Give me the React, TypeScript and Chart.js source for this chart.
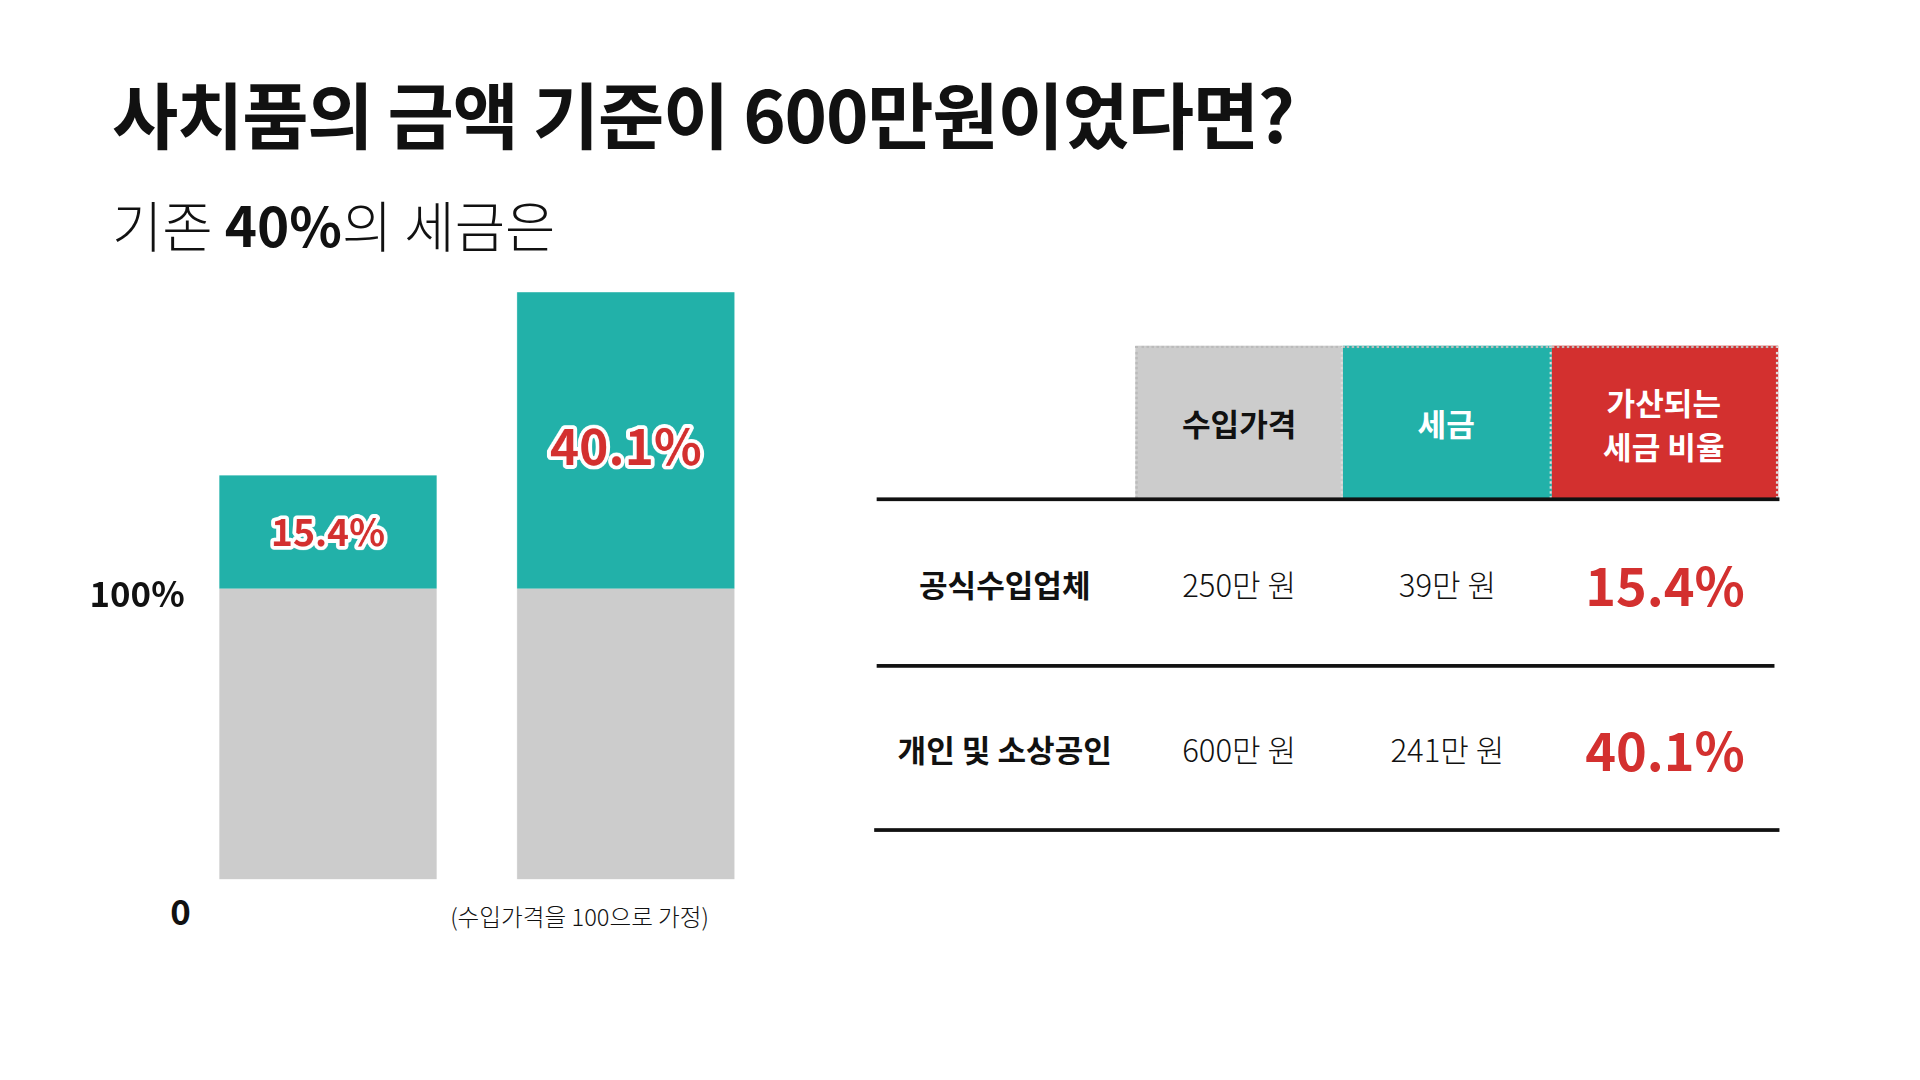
import { useEffect, useRef } from 'react';
import { Chart, registerables } from 'chart.js';

Chart.register(...registerables);

// bar chart data (heights as drawn in the picture; price = 100)
const barCategories = ['공식수입업체', '개인 및 소상공인'];
const priceShown = [100, 100];
const taxShown = [39, 102];
const taxLabels = ['15.4%', '40.1%'];
const taxLabelSizes = [30, 40];

// table data
const tableHeaders = ['수입가격', '세금', '가산되는\n세금 비율'];
const rowNames = ['공식수입업체', '개인 및 소상공인'];
const rowPrices = ['250만 원', '600만 원'];
const rowTaxes = ['39만 원', '241만 원'];
const rowRates = ['15.4%', '40.1%'];

const GRAY = '#cccccc';
const TEAL = '#22b1a9';
const RED = '#d3302f';
const FONT = '"Noto Sans CJK KR", "Noto Sans", sans-serif';

const labelPlugin = {
  id: 'taxLabels',
  afterDatasetsDraw(chart: Chart) {
    const { ctx } = chart;
    const meta = chart.getDatasetMeta(1);
    meta.data.forEach((bar: any, i: number) => {
      const size = taxLabelSizes[i];
      ctx.save();
      ctx.font = `bold ${size}px ${FONT}`;
      ctx.textAlign = 'center';
      ctx.textBaseline = 'middle';
      const y = i === 0 ? (bar.y + bar.base) / 2 : bar.y + 124;
      ctx.lineWidth = 6;
      ctx.strokeStyle = '#ffffff';
      ctx.lineJoin = 'round';
      ctx.strokeText(taxLabels[i], bar.x, y);
      ctx.fillStyle = RED;
      ctx.fillText(taxLabels[i], bar.x, y);
      ctx.restore();
    });
  },
};

function BarChart() {
  const canvasRef = useRef<HTMLCanvasElement>(null);
  const chartRef = useRef<Chart | null>(null);

  useEffect(() => {
    if (!canvasRef.current) return;
    if (chartRef.current) chartRef.current.destroy();
    chartRef.current = new Chart(canvasRef.current, {
      type: 'bar',
      data: {
        labels: barCategories,
        datasets: [
          { data: priceShown, backgroundColor: GRAY, barPercentage: 0.73, categoryPercentage: 1 },
          { data: taxShown, backgroundColor: TEAL, barPercentage: 0.73, categoryPercentage: 1 },
        ],
      },
      options: {
        responsive: false,
        animation: false,
        devicePixelRatio: 2,
        layout: { padding: 0 },
        scales: {
          x: { stacked: true, display: false },
          y: { stacked: true, display: false, min: 0, max: 202 },
        },
        plugins: { legend: { display: false }, tooltip: { enabled: false } },
      },
      plugins: [labelPlugin],
    });
    return () => {
      if (chartRef.current) chartRef.current.destroy();
    };
  }, []);

  return (
    <canvas
      ref={canvasRef}
      width={479}
      height={472}
      style={{ position: 'absolute', left: 144, top: 235, width: 479, height: 472 }}
    />
  );
}

const cell = (x: number, w: number, y: number, h: number): React.CSSProperties => ({
  position: 'absolute',
  left: x,
  top: y,
  width: w,
  height: h,
  display: 'flex',
  alignItems: 'center',
  justifyContent: 'center',
  textAlign: 'center',
});

export default function App() {
  const colX = [913, 1080, 1248];
  const colW = [167, 168, 182];
  const headBg = [GRAY, TEAL, RED];
  const headFg = ['#111', '#fff', '#fff'];
  const rowY = [402, 535];
  return (
    <div
      style={{
        position: 'absolute',
        left: 0,
        top: 0,
        width: 1544,
        height: 869,
        background: '#fff',
        transform: 'scale(1.2435)',
        transformOrigin: '0 0',
        fontFamily: FONT,
        color: '#111',
      }}
    >
      <div style={{ position: 'absolute', left: 90, top: 48, fontSize: 58, fontWeight: 700, letterSpacing: -1 }}>
        사치품의 금액 기준이 600만원이었다면?
      </div>
      <div style={{ position: 'absolute', left: 90, top: 148, fontSize: 44, fontWeight: 300 }}>
        기존 <b style={{ fontWeight: 700 }}>40%</b>의 세금은
      </div>

      <BarChart />
      <div style={{ position: 'absolute', left: 72, top: 456, fontSize: 28, fontWeight: 700 }}>100%</div>
      <div style={{ position: 'absolute', left: 137, top: 712, fontSize: 28, fontWeight: 700 }}>0</div>
      <div style={{ position: 'absolute', left: 362, top: 723, fontSize: 19, fontWeight: 300 }}>
        (수입가격을 100으로 가정)
      </div>

      {tableHeaders.map((h, i) => (
        <div
          key={h}
          style={{
            ...cell(colX[i], colW[i], 278, 123),
            background: headBg[i],
            color: headFg[i],
            fontSize: 25,
            fontWeight: 700,
            whiteSpace: 'pre-line',
            lineHeight: 1.4,
            borderTop: '2px dotted #bbb',
            borderLeft: i === 0 ? '2px dotted #bbb' : undefined,
            borderRight: '2px dotted #ddd',
            boxSizing: 'border-box',
          }}
        >
          {h}
        </div>
      ))}
      <div style={{ position: 'absolute', left: 705, top: 400, width: 726, height: 3, background: '#111' }} />
      <div style={{ position: 'absolute', left: 705, top: 534, width: 722, height: 3, background: '#111' }} />
      <div style={{ position: 'absolute', left: 703, top: 666, width: 728, height: 3, background: '#111' }} />

      {rowNames.map((name, r) => (
        <div key={name}>
          <div style={{ ...cell(705, 206, rowY[r], 133), fontSize: 25, fontWeight: 700 }}>{name}</div>
          <div style={{ ...cell(colX[0], colW[0], rowY[r], 133), fontSize: 25, fontWeight: 300 }}>{rowPrices[r]}</div>
          <div style={{ ...cell(colX[1], colW[1], rowY[r], 133), fontSize: 25, fontWeight: 300 }}>{rowTaxes[r]}</div>
          <div style={{ ...cell(colX[2], colW[2], rowY[r], 133), fontSize: 42, fontWeight: 700, color: RED }}>
            {rowRates[r]}
          </div>
        </div>
      ))}
    </div>
  );
}
